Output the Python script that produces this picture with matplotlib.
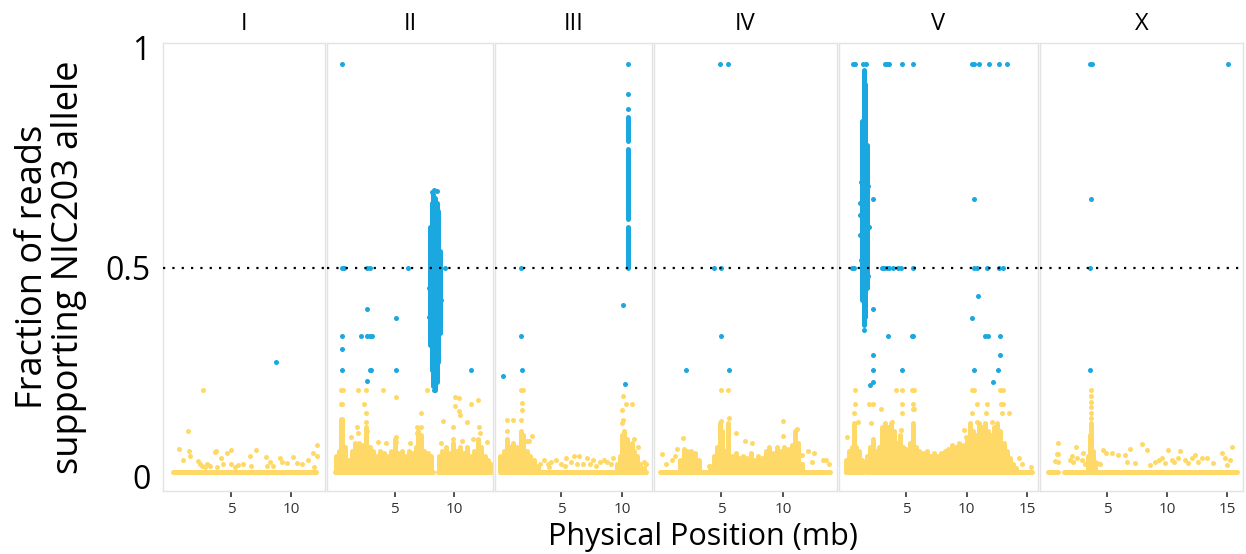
import numpy as np
import matplotlib
matplotlib.use("Agg")
import matplotlib.pyplot as plt

plt.rcParams["font.family"] = ["Open Sans", "DejaVu Sans"]

BLUE, YELLOW = "#1BA7E0", "#FFD967"
DOT = 3.6                      # marker diameter in points

chroms = ["I", "II", "III", "IV", "V", "X"]

# ---- chromosome I ----
zero_I = [(0.17, 12.1)]
stack_I = []
col_I = []
yellow_I = [(2.64, 0.20), (1.39, 0.10), (0.67, 0.056), (1.0, 0.028), (1.53, 0.05), (1.56, 0.038),
            (2.22, 0.026), (2.42, 0.018), (2.56, 0.014), (2.97, 0.016), (3.25, 0.015), (3.8, 0.012),
            (3.64, 0.049), (3.75, 0.05), (4.14, 0.033), (4.3, 0.02), (4.97, 0.018), (4.64, 0.046),
            (4.97, 0.053), (5.6, 0.016), (6.0, 0.02), (6.6, 0.038), (6.7, 0.015), (7.05, 0.053),
            (7.9, 0.036), (8.0, 0.015), (8.25, 0.025), (8.5, 0.015), (9.1, 0.034), (9.25, 0.023),
            (9.7, 0.021), (10.2, 0.037), (10.5, 0.021), (10.9, 0.018), (11.4, 0.028), (11.9, 0.013),
            (11.8, 0.047), (12.2, 0.066), (12.2, 0.039), (2.8, 0.012), (5.3, 0.012), (3.0, 0.02)]
blue_I = [(8.75, 0.27)]

# ---- chromosome II ----
zero_II = [(0.0, 8.2), (8.65, 13.05)]
stack_II = [(0.05, 0.04), (0.3, 0.05), (0.5, 0.13), (0.6, 0.13), (0.8, 0.06), (1.1, 0.03), (1.4, 0.05),
            (1.7, 0.07), (2.0, 0.07), (2.3, 0.065), (2.6, 0.11), (2.9, 0.06), (3.2, 0.05), (3.5, 0.04),
            (3.8, 0.05), (4.1, 0.045), (4.4, 0.04), (4.7, 0.05), (5.0, 0.08), (5.3, 0.045), (5.6, 0.05),
            (5.9, 0.04), (6.2, 0.05), (6.5, 0.045), (6.8, 0.06), (7.0, 0.1), (7.2, 0.09), (7.5, 0.05),
            (7.8, 0.045), (8.1, 0.04), (8.7, 0.04), (9.0, 0.05), (9.3, 0.06), (9.6, 0.045), (9.9, 0.07),
            (10.2, 0.05), (10.5, 0.06), (10.8, 0.045), (11.1, 0.06), (11.4, 0.04), (11.7, 0.05),
            (12.0, 0.08), (12.3, 0.06), (12.6, 0.04), (12.9, 0.03), (13.1, 0.02)]
col_II = [(7.98, 0.31, 0.60), (8.12, 0.25, 0.66), (8.26, 0.21, 0.68), (8.4, 0.20, 0.67),
          (8.54, 0.22, 0.66), (8.68, 0.27, 0.64), (8.8, 0.34, 0.54)]
yellow_II = [(0.5, 0.2), (0.65, 0.2), (0.5, 0.167), (0.6, 0.167), (1.9, 0.2), (2.6, 0.2), (2.4, 0.167),
             (4.0, 0.2), (5.1, 0.183), (7.75, 0.2), (2.6, 0.144), (2.6, 0.123), (1.8, 0.11), (1.9, 0.095),
             (3.6, 0.074), (6.9, 0.11), (6.9, 0.094), (7.25, 0.144), (7.25, 0.11), (9.05, 0.125),
             (10.05, 0.183), (10.05, 0.162), (10.45, 0.15), (10.5, 0.14), (11.4, 0.167), (12.05, 0.176),
             (11.1, 0.123), (9.9, 0.11), (9.95, 0.08), (11.6, 0.08), (12.1, 0.11), (12.2, 0.095),
             (12.75, 0.074), (5.1, 0.074), (5.15, 0.085), (0.5, 0.1), (0.55, 0.09), (2.7, 0.1),
             (1.3, 0.085), (4.3, 0.07), (6.3, 0.07), (8.9, 0.07), (10.7, 0.075), (10.4, 0.18)]
blue_II = [(0.56, 1.0), (0.56, 0.5), (0.7, 0.5), (2.64, 0.5), (2.92, 0.5), (6.1, 0.5), (9.2, 0.5),
           (2.64, 0.40), (5.1, 0.377), (0.56, 0.334), (2.17, 0.334), (2.64, 0.334), (2.92, 0.334),
           (3.06, 0.334), (0.56, 0.30), (0.56, 0.25), (2.92, 0.25), (3.05, 0.25), (5.1, 0.25),
           (11.45, 0.25), (2.64, 0.222), (8.3, 0.69), (8.18, 0.685), (8.55, 0.688), (7.87, 0.45),
           (7.88, 0.38), (8.92, 0.42), (8.35, 0.2)]

# ---- chromosome III ----
zero_III = [(0.0, 12.0)]
stack_III = [(0.0, 0.04), (0.3, 0.05), (0.55, 0.08), (0.8, 0.06), (1.1, 0.07), (1.4, 0.06), (1.7, 0.1),
             (1.9, 0.09), (2.2, 0.05), (2.5, 0.04), (2.8, 0.03), (3.1, 0.015), (9.6, 0.02), (9.8, 0.04),
             (10.0, 0.09), (10.2, 0.1), (10.4, 0.08), (10.6, 0.06), (10.8, 0.07), (11.0, 0.05),
             (11.2, 0.04), (11.5, 0.02), (11.8, 0.01)]
col_III = [(10.5, 0.5, 0.60), (10.5, 0.62, 0.79), (10.5, 0.81, 0.87)]
yellow_III = [(1.75, 0.2), (1.85, 0.2), (1.8, 0.168), (1.8, 0.152), (1.75, 0.127), (0.6, 0.127),
              (1.1, 0.127), (0.55, 0.1), (2.65, 0.089), (2.2, 0.075), (2.4, 0.075), (3.3, 0.02),
              (3.6, 0.03), (3.9, 0.02), (4.2, 0.025), (4.6, 0.03), (5.0, 0.02), (5.4, 0.035),
              (5.8, 0.025), (6.1, 0.04), (6.5, 0.04), (6.8, 0.02), (7.1, 0.035), (7.4, 0.02),
              (7.6, 0.03), (7.9, 0.015), (8.2, 0.025), (8.5, 0.03), (8.8, 0.025), (9.1, 0.02),
              (9.3, 0.035), (5.3, 0.015), (6.3, 0.018), (4.0, 0.012), (10.1, 0.185), (10.0, 0.152),
              (10.35, 0.167), (10.8, 0.167), (10.1, 0.127), (10.0, 0.12), (11.0, 0.08), (11.3, 0.06),
              (11.8, 0.025), (12.0, 0.02)]
blue_III = [(10.5, 1.0), (10.5, 0.926), (10.48, 0.89), (10.1, 0.409), (10.24, 0.215), (1.7, 0.5),
            (1.7, 0.334), (1.78, 0.25), (0.22, 0.234)]

# ---- chromosome IV ----
zero_IV = [(0.08, 13.8)]
stack_IV = [(1.7, 0.03), (2.0, 0.055), (2.3, 0.05), (2.6, 0.05), (2.9, 0.045), (3.2, 0.03),
            (4.1, 0.015), (4.4, 0.04), (4.7, 0.06), (4.95, 0.12), (5.1, 0.1), (5.3, 0.05), (5.6, 0.12),
            (5.9, 0.04), (6.2, 0.045), (6.5, 0.035), (6.8, 0.04), (7.1, 0.035), (7.4, 0.045),
            (7.7, 0.03), (8.0, 0.04), (8.3, 0.035), (8.6, 0.05), (8.9, 0.06), (9.2, 0.045), (9.5, 0.06),
            (9.8, 0.05), (10.1, 0.06), (10.4, 0.055), (10.7, 0.065), (11.0, 0.1), (11.2, 0.07),
            (11.5, 0.02)]
col_IV = []
yellow_IV = [(5.0, 0.2), (5.59, 0.2), (5.65, 0.133), (5.0, 0.125), (9.97, 0.125), (6.2, 0.095),
             (11.1, 0.105), (10.0, 0.088), (1.96, 0.082), (1.48, 0.057), (0.27, 0.044), (0.54, 0.018),
             (1.02, 0.03), (6.9, 0.075), (7.47, 0.07), (12.04, 0.05), (12.5, 0.046), (11.5, 0.042),
             (12.37, 0.025), (13.25, 0.03), (13.5, 0.028), (13.7, 0.018), (11.56, 0.02), (1.3, 0.04),
             (4.0, 0.015)]
blue_IV = [(4.92, 1.0), (5.59, 1.0), (4.44, 0.5), (5.0, 0.5), (5.0, 0.334), (2.15, 0.25), (5.65, 0.25)]

# ---- chromosome V ----
zero_V = [(0.0, 1.42), (1.68, 15.4)]
stack_V = [(0.0, 0.03), (0.25, 0.05), (0.5, 0.06), (0.7, 0.12), (0.9, 0.06), (1.15, 0.05), (1.35, 0.03),
           (1.75, 0.04), (2.0, 0.06), (2.25, 0.08), (2.5, 0.05), (2.75, 0.06), (3.0, 0.11), (3.25, 0.12),
           (3.5, 0.11), (3.75, 0.12), (4.0, 0.1), (4.25, 0.07), (4.5, 0.09), (4.75, 0.06), (5.0, 0.055),
           (5.3, 0.07), (5.55, 0.12), (5.8, 0.06), (6.1, 0.05), (6.4, 0.045), (6.7, 0.05), (7.0, 0.04),
           (7.3, 0.045), (7.6, 0.04), (7.9, 0.045), (8.2, 0.05), (8.5, 0.055), (8.8, 0.065), (9.1, 0.06),
           (9.4, 0.07), (9.7, 0.065), (10.0, 0.08), (10.3, 0.12), (10.55, 0.1), (10.8, 0.09),
           (11.05, 0.12), (11.3, 0.11), (11.55, 0.12), (11.8, 0.1), (12.05, 0.09), (12.3, 0.11),
           (12.55, 0.12), (12.8, 0.1), (13.05, 0.07), (13.3, 0.05), (13.55, 0.035), (13.8, 0.02),
           (14.1, 0.01)]
col_V = [(1.38, 0.42, 0.86), (1.52, 0.36, 0.985), (1.64, 0.38, 0.95), (1.76, 0.45, 0.80)]
yellow_V = [(0.79, 0.2), (4.15, 0.2), (4.7, 0.2), (5.47, 0.2), (5.66, 0.2), (10.43, 0.2), (10.62, 0.2),
            (12.77, 0.2), (13.0, 0.2), (0.79, 0.167), (1.94, 0.167), (2.3, 0.167), (4.7, 0.167),
            (5.58, 0.167), (10.9, 0.167), (11.67, 0.167), (12.82, 0.167), (13.0, 0.167), (2.96, 0.153),
            (5.58, 0.153), (5.66, 0.153), (0.7, 0.144), (4.7, 0.144), (10.48, 0.144), (11.58, 0.144),
            (12.96, 0.144), (13.5, 0.144), (1.03, 0.123), (3.87, 0.123), (10.9, 0.123), (12.13, 0.123),
            (2.08, 0.119), (9.8, 0.103), (4.55, 0.103), (0.15, 0.086), (9.93, 0.086), (14.61, 0.02),
            (15.3, 0.012), (14.3, 0.035)]
blue_V = [(0.6, 1.0), (0.8, 1.0), (1.47, 1.0), (1.67, 1.0), (3.27, 1.0), (3.4, 1.0), (3.62, 1.0),
          (4.64, 1.0), (5.55, 1.0), (10.43, 1.0), (10.62, 1.0), (11.03, 1.0), (11.89, 1.0), (12.71, 1.0),
          (13.37, 1.0), (0.51, 0.5), (0.7, 0.5), (2.99, 0.5), (3.18, 0.5), (3.4, 0.5), (3.62, 0.5),
          (3.95, 0.5), (4.37, 0.5), (4.56, 0.5), (5.55, 0.5), (10.62, 0.5), (10.84, 0.5), (11.67, 0.5),
          (12.71, 0.5), (13.04, 0.5), (2.3, 0.668), (10.62, 0.668), (10.92, 0.43), (10.43, 0.377),
          (2.3, 0.4), (3.54, 0.334), (5.47, 0.334), (5.6, 0.334), (11.53, 0.334), (11.8, 0.334),
          (12.77, 0.334), (2.3, 0.286), (12.77, 0.286), (2.3, 0.25), (4.64, 0.25), (10.62, 0.25),
          (12.63, 0.25), (2.02, 0.213), (2.3, 0.22), (12.22, 0.22), (1.22, 0.58), (1.25, 0.52),
          (1.22, 0.66), (1.9, 0.6), (1.86, 0.7), (1.25, 0.71), (1.2, 0.63), (1.88, 0.48), (1.55, 0.348)]

# ---- chromosome X ----
zero_X = [(0.11, 0.94), (1.44, 15.8)]
stack_X = [(3.45, 0.04), (3.58, 0.09), (3.7, 0.12), (3.85, 0.05), (4.0, 0.025)]
col_X = []
yellow_X = [(3.65, 0.2), (3.65, 0.185), (3.67, 0.17), (3.65, 0.16), (3.67, 0.145), (3.65, 0.133),
            (0.89, 0.07), (0.8, 0.043), (0.95, 0.043), (0.7, 0.027), (0.9, 0.025), (1.92, 0.03),
            (2.05, 0.04), (2.2, 0.025), (2.39, 0.062), (2.47, 0.035), (2.9, 0.03), (3.0, 0.045),
            (3.17, 0.02), (4.2, 0.021), (4.4, 0.02), (4.7, 0.053), (4.9, 0.046), (5.4, 0.046),
            (5.9, 0.042), (6.5, 0.042), (6.64, 0.025), (6.9, 0.055), (7.33, 0.021), (7.94, 0.068),
            (8.3, 0.054), (8.58, 0.017), (9.0, 0.025), (9.3, 0.03), (9.6, 0.034), (9.8, 0.021),
            (10.05, 0.054), (10.4, 0.03), (10.6, 0.025), (10.9, 0.034), (11.1, 0.05), (11.5, 0.029),
            (11.75, 0.021), (12.05, 0.034), (12.3, 0.042), (12.6, 0.025), (12.9, 0.034), (13.3, 0.034),
            (13.86, 0.021), (14.55, 0.046), (14.8, 0.034), (15.25, 0.029), (15.4, 0.06), (15.0, 0.017)]
blue_X = [(3.58, 1.0), (3.72, 1.0), (15.1, 1.0), (3.67, 0.668), (3.58, 0.5), (3.58, 0.25)]

xlims = {"I": (-0.67, 12.83), "II": (-0.69, 13.28), "III": (-0.41, 12.46),
         "IV": (-0.40, 14.35), "V": (-0.54, 15.9), "X": (-0.58, 16.33)}
xticks = {"I": [5, 10], "II": [5, 10], "III": [5, 10], "IV": [5, 10],
          "V": [5, 10, 15], "X": [5, 10, 15]}
ytick_labels = ["0", "0.5", "1"]

data = {
    "I": (zero_I, stack_I, col_I, yellow_I, blue_I),
    "II": (zero_II, stack_II, col_II, yellow_II, blue_II),
    "III": (zero_III, stack_III, col_III, yellow_III, blue_III),
    "IV": (zero_IV, stack_IV, col_IV, yellow_IV, blue_IV),
    "V": (zero_V, stack_V, col_V, yellow_V, blue_V),
    "X": (zero_X, stack_X, col_X, yellow_X, blue_X),
}

# panel edges in pixels (left, right); layout only
W, H = 1246, 554
edges = [(163, 325), (327, 493), (495, 652), (654, 837), (839, 1038), (1040, 1243)]
top_px, bot_px = 43, 491

fig = plt.figure(figsize=(W / 100, H / 100), dpi=100)
for i, ch in enumerate(chroms):
    l, r = edges[i]
    ax = fig.add_axes([l / W, 1 - bot_px / H, (r - l) / W, (bot_px - top_px) / H])
    zero, stack, col, ypts, bpts = data[ch]
    for x0, x1 in zero:
        ax.hlines(0, x0, x1, color=YELLOW, lw=DOT, capstyle="round", zorder=1)
    if stack:
        sx, sy = zip(*stack)
        ax.vlines(sx, 0, sy, color=YELLOW, lw=DOT, capstyle="round", zorder=1)
    if ypts:
        px, py = zip(*ypts)
        ax.scatter(px, py, s=DOT ** 2, c=YELLOW, linewidths=0, zorder=2)
    if col:
        cx, c0, c1 = zip(*col)
        ax.vlines(cx, c0, c1, color=BLUE, lw=DOT, capstyle="round", zorder=3)
    if bpts:
        px, py = zip(*bpts)
        ax.scatter(px, py, s=DOT ** 2, c=BLUE, linewidths=0, zorder=3)
    ax.axhline(0.5, color="black", ls=(0, (1, 3.2)), lw=1.6, zorder=5)

    ax.set_xlim(*xlims[ch])
    ax.set_ylim(-0.047, 1.051)
    ax.set_xticks(xticks[ch])
    ax.tick_params(axis="x", length=4, width=1.2, color="#333333", labelsize=11,
                   labelcolor="#333333", pad=4)
    if i == 0:
        # labels sit slightly spread out in the original (0 a bit low, 1 a bit high)
        ax.set_yticks([-0.012, 0.5, 1.04])
        ax.set_yticklabels(ytick_labels)
        ax.tick_params(axis="y", length=0, labelsize=23, pad=9)
    else:
        ax.set_yticks([])
    for s in ax.spines.values():
        s.set_color("#E3E3E3")
        s.set_linewidth(1.0)
    ax.set_title(ch, fontsize=17, pad=9)

fig.text(0.041, (1 - (top_px + bot_px) / 2 / H), "Fraction of reads\nsupporting NIC203 allele",
         rotation=90, ha="center", va="center", fontsize=26, linespacing=1.0)
fig.text((edges[0][0] + edges[-1][1]) / 2 / W, 1 - 537 / H, "Physical Position (mb)",
         ha="center", va="center", fontsize=22)

fig.savefig("out.png", dpi=100)
